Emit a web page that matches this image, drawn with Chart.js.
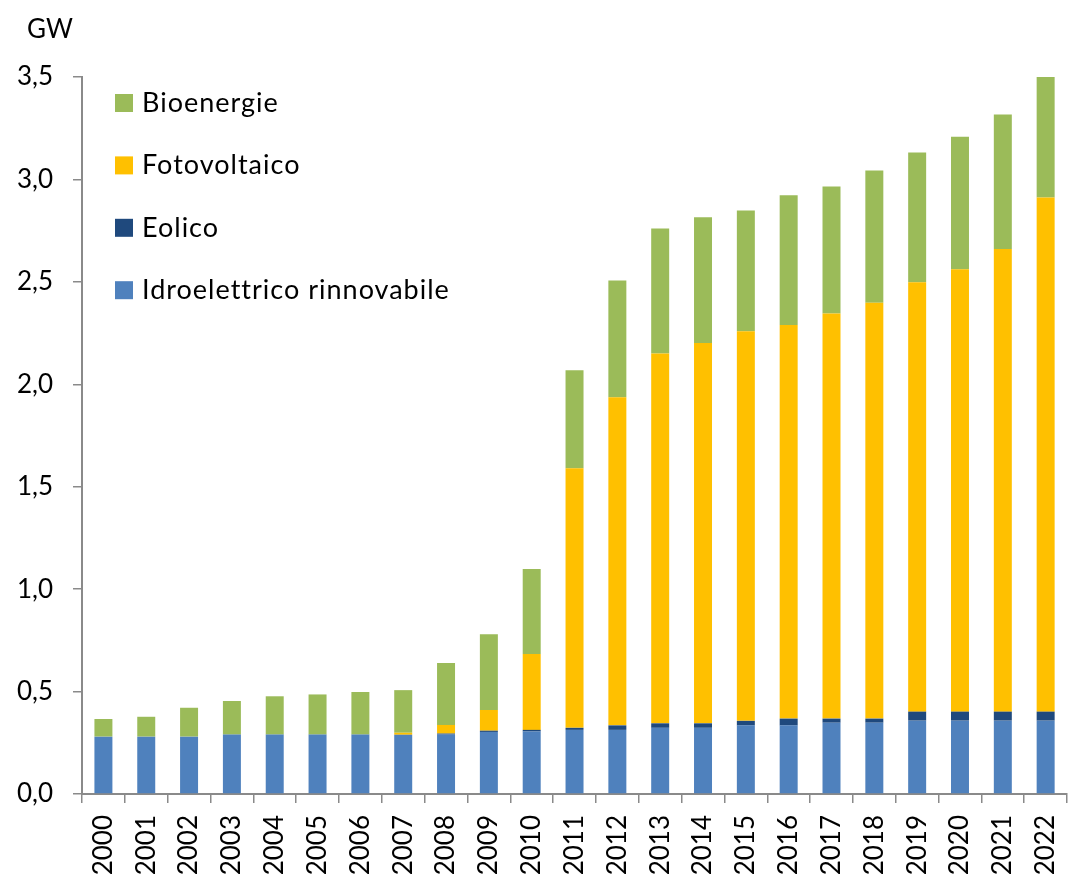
<!DOCTYPE html>
<html lang="it">
<head>
<meta charset="utf-8">
<script src="https://cdn.jsdelivr.net/npm/chart.js@4.4.1/dist/chart.umd.min.js"></script>
<title>Capacità rinnovabile</title>
<style>
  html, body { margin: 0; padding: 0; background: #fff; }
</style>
</head>
<body>
<canvas id="chart" width="1089" height="886"></canvas>
<script>
const years = ['2000','2001','2002','2003','2004','2005','2006','2007','2008','2009','2010',
  '2011','2012','2013','2014','2015','2016','2017','2018','2019','2020','2021','2022'];

// GW
const idro = [0.28, 0.28, 0.28, 0.29, 0.29, 0.29, 0.29, 0.289, 0.29, 0.303, 0.305,
  0.313, 0.313, 0.323, 0.323, 0.335, 0.335, 0.348, 0.348, 0.358, 0.358, 0.358, 0.358];
const eolico = [0, 0, 0, 0, 0, 0, 0, 0, 0.005, 0.006, 0.008,
  0.01, 0.022, 0.022, 0.022, 0.022, 0.033, 0.02, 0.02, 0.044, 0.044, 0.044, 0.044];
const fotovoltaico = [0, 0, 0, 0, 0, 0, 0, 0.01, 0.042, 0.101, 0.37,
  1.267, 1.602, 1.805, 1.857, 1.902, 1.922, 1.977, 2.03, 2.096, 2.16, 2.258, 2.51];
const bioenergie = [0.086, 0.097, 0.141, 0.164, 0.187, 0.196, 0.208, 0.208, 0.302, 0.37, 0.415,
  0.478, 0.57, 0.61, 0.613, 0.589, 0.633, 0.621, 0.646, 0.634, 0.646, 0.657, 0.591];

const FONT = 'Lato, "Liberation Sans", sans-serif';
const axisColor = '#8a8a8a';

// legend in the top-left corner of the plot, plus the unit label
const overlay = {
  id: 'overlay',
  afterDraw(chart) {
    const ctx = chart.ctx;
    ctx.save();
    ctx.fillStyle = '#000';
    ctx.font = '26px ' + FONT;
    ctx.textAlign = 'left';
    ctx.textBaseline = 'alphabetic';
    ctx.fillText('GW', 27, 38);

    ctx.font = '27px ' + FONT;
    ctx.letterSpacing = '1px';
    const ds = chart.data.datasets.slice().reverse();
    ds.forEach((d, i) => {
      const cy = 103 + i * 62.4;
      ctx.fillStyle = d.backgroundColor;
      ctx.fillRect(115, cy - 9, 18, 18);
      ctx.fillStyle = '#000';
      ctx.fillText(d.label, 142, cy + 9);
    });
    ctx.restore();
  }
};

const ctx = document.getElementById('chart');
new Chart(ctx, {
  type: 'bar',
  data: {
    labels: years,
    datasets: [
      { label: 'Idroelettrico rinnovabile', data: idro, backgroundColor: '#4f81bd' },
      { label: 'Eolico', data: eolico, backgroundColor: '#1f497d' },
      { label: 'Fotovoltaico', data: fotovoltaico, backgroundColor: '#ffc000' },
      { label: 'Bioenergie', data: bioenergie, backgroundColor: '#9bbb59' }
    ]
  },
  options: {
    responsive: false,
    animation: false,
    categoryPercentage: 1.0,
    barPercentage: 0.42,
    layout: { padding: { top: 77, right: 7, left: 0, bottom: 0 } },
    plugins: {
      legend: { display: false },
      tooltip: { enabled: false }
    },
    scales: {
      x: {
        stacked: true,
        grid: { drawOnChartArea: false, drawTicks: true, tickLength: 9, color: axisColor, lineWidth: 1.5 },
        border: { display: true, color: axisColor, width: 2 },
        ticks: {
          color: '#000',
          font: { family: FONT, size: 26 },
          minRotation: 90,
          maxRotation: 90,
          padding: 12,
          autoSkip: false
        },
        afterFit: (scale) => { scale.height = 92; }
      },
      y: {
        stacked: true,
        min: 0,
        max: 3.5,
        grid: { drawOnChartArea: false, drawTicks: true, tickLength: 9, color: axisColor, lineWidth: 1.5 },
        border: { display: true, color: axisColor, width: 2 },
        ticks: {
          stepSize: 0.5,
          color: '#000',
          font: { family: FONT, size: 26 },
          padding: 20,
          callback: (v) => v.toFixed(1).replace('.', ',')
        },
        afterFit: (scale) => { scale.width = 82; }
      }
    }
  },
  plugins: [overlay]
});
</script>
</body>
</html>
